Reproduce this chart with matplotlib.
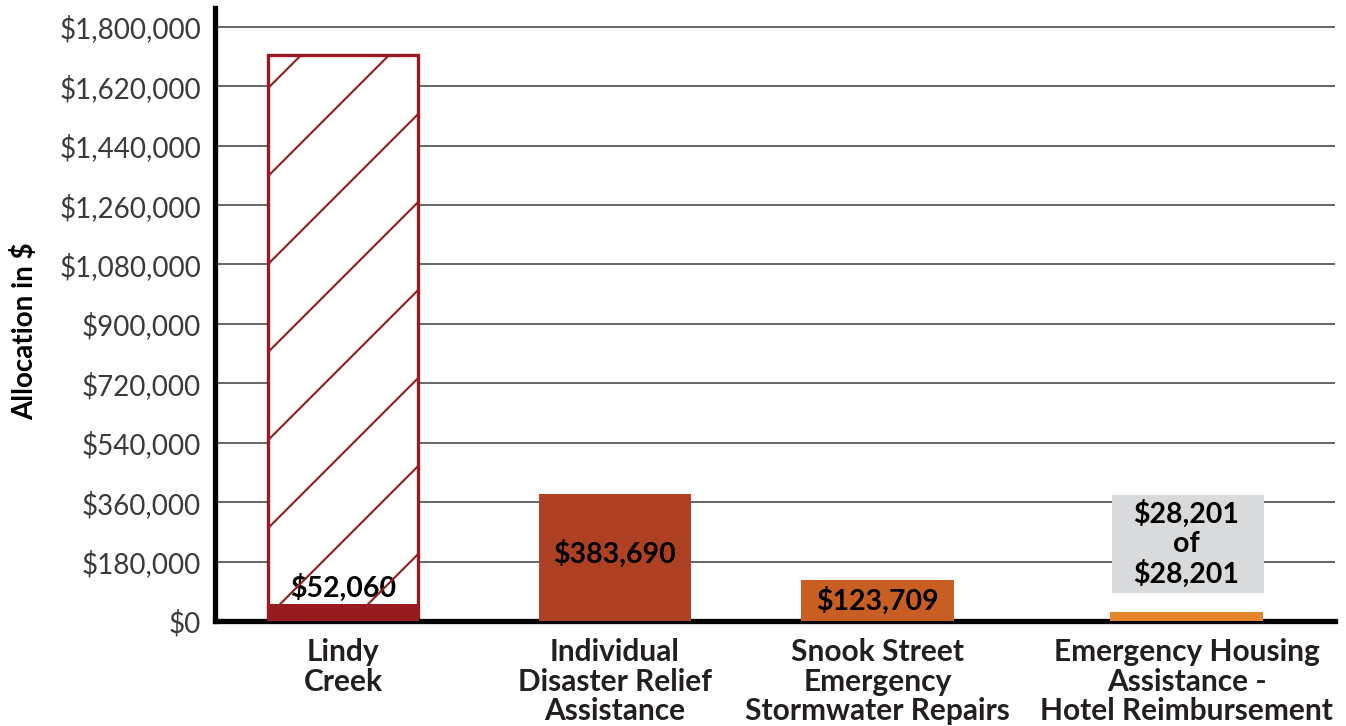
import matplotlib
matplotlib.use("Agg")
import matplotlib.pyplot as plt
import numpy as np
from matplotlib.lines import Line2D
from matplotlib.patches import Rectangle
from matplotlib.ticker import FuncFormatter

# ---- data ----
categories = ["Lindy\nCreek", "Individual\nDisaster Relief\nAssistance",
              "Snook Street\nEmergency\nStormwater Repairs",
              "Emergency Housing\nAssistance -\nHotel Reimbursement"]
allocated = [1714000, None, None, None]          # total allocation (hatched outline)
spent = [52060, 383690, 123709, 28201]            # filled amounts
value_labels = ["$52,060", "$383,690", "$123,709", "$28,201\nof\n$28,201"]
y_ticks = [0, 180000, 360000, 540000, 720000, 900000, 1080000, 1260000,
           1440000, 1620000, 1800000]
y_label = "Allocation in $"

# ---- styles / layout ----
colors = ["#971B1F", "#AE4124", "#C85E22", "#E5862A"]
plt.rcParams['font.family'] = ['Lato', 'DejaVu Sans']

W, H = 1346, 726
fig = plt.figure(figsize=(W / 100, H / 100), dpi=100)
ax = fig.add_axes([215 / W, (H - 621) / H, (1335 - 215) / W, (621 - 8) / H])

x = np.array([0.0, 0.967, 1.901, 3.0])   # category slot positions (layout)
bw = 0.533
ax.set_xlim(-0.455, 3.528)
ax.set_ylim(0, 1857000)

ax.set_yticks(y_ticks)
ax.yaxis.set_major_formatter(FuncFormatter(lambda v, p: f"${v:,.0f}"))
ax.tick_params(axis='y', length=0, labelsize=20, labelcolor='#3a3a3a', pad=10)
ax.tick_params(axis='x', length=0, pad=12)
ax.set_xticks(x)
ax.set_xticklabels(categories, fontsize=21.5, fontweight='bold', color='#231F20',
                   linespacing=1.08)
ax.grid(axis='y', color='#3a3a3a', linewidth=1.1, zorder=0)
ax.set_axisbelow(True)
for s in ['top', 'right']:
    ax.spines[s].set_visible(False)
for s in ['left', 'bottom']:
    ax.spines[s].set_linewidth(3.8)
    ax.spines[s].set_color('black')
fig.text(25 / W, 1 - 331 / H, y_label, rotation=90, ha='center', va='center',
         fontsize=20, fontweight='bold', color='black')

# outline (allocation) bar with sparse diagonal hatching
outline = []
for i, a in enumerate(allocated):
    if a is None:
        continue
    b = ax.bar(x[i], a, width=bw, facecolor='white', edgecolor=colors[i],
               linewidth=2.4, zorder=2)[0]
    outline.append((i, b))

# filled bars
bars = ax.bar(x, spent, width=bw + 0.008, color=colors, zorder=3)

# hatching lines drawn in pixel space, clipped to outline bar
for i, b in outline:
    bb = b.get_window_extent()
    spacing = 88
    top_off = 33
    c0 = bb.y1 - top_off - bb.x0
    ks = np.arange(-2, int((bb.height + bb.width) / spacing) + 3)
    for k in ks:
        c = c0 - spacing * k
        xs = np.array([bb.x0 - 10, bb.x1 + 10])
        ln = Line2D(xs, xs + c, transform=None, color=colors[i], linewidth=1.5,
                    zorder=2.5)
        ln.set_clip_path(b)
        fig.add_artist(ln)

# value labels
lab_kw = dict(ha='center', fontsize=20.5, fontweight='bold', color='black', zorder=5)
ax.text(x[0], spent[0] + 6000, value_labels[0], va='bottom', **lab_kw)
ax.text(x[1], spent[1] / 2 + 12000, value_labels[1], va='center', **lab_kw)
ax.text(x[2], spent[2] / 2, value_labels[2], va='center', **lab_kw)
box_lo, box_hi = 85000, 382000
ax.add_patch(Rectangle((x[3] - bw / 2, box_lo), bw + 0.008, box_hi - box_lo,
                       facecolor='#D9DADB', edgecolor='none', zorder=4))
ax.text(x[3], (box_lo + box_hi) / 2, value_labels[3], va='center',
        linespacing=1.12, **lab_kw)

fig.savefig("out.png", dpi=100)
